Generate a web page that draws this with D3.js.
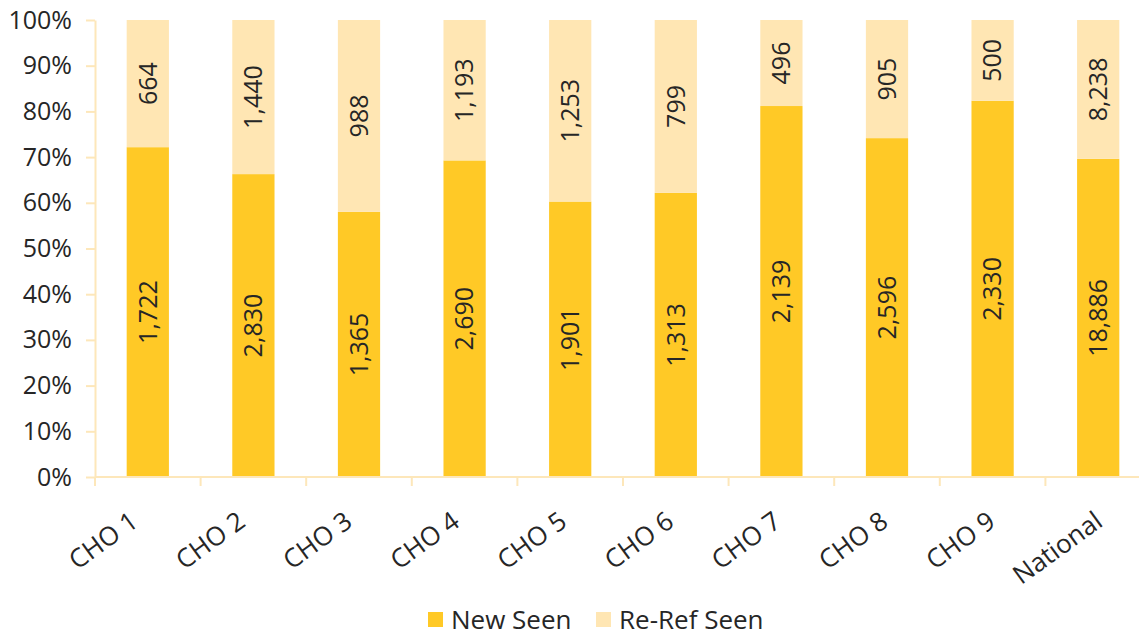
<!DOCTYPE html>
<html>
<head>
<meta charset="utf-8">
<script src="https://cdn.jsdelivr.net/npm/d3@7"></script>
<style>
  body { margin: 0; background: #fff; }
  text { font-family: "Open Sans", sans-serif; fill: #262626; }
</style>
</head>
<body>
<div class="chart"></div>
<script>
const categories = ['CHO 1', 'CHO 2', 'CHO 3', 'CHO 4', 'CHO 5', 'CHO 6', 'CHO 7', 'CHO 8', 'CHO 9', 'National'];
const newSeen = [1722, 2830, 1365, 2690, 1901, 1313, 2139, 2596, 2330, 18886];
const reRefSeen = [664, 1440, 988, 1193, 1253, 799, 496, 905, 500, 8238];
const seriesNames = ['New Seen', 'Re-Ref Seen'];
const yTicks = [0, 0.1, 0.2, 0.3, 0.4, 0.5, 0.6, 0.7, 0.8, 0.9, 1];

const colors = ['#FFC926', '#FFE6B3'];
const axisColor = '#FDE7BA';

const W = 1139, H = 637;
const margin = {top: 20, right: -12, bottom: 160, left: 95};
const width = W - margin.left - margin.right;
const height = H - margin.top - margin.bottom;

const svg = d3.select('.chart')
  .append('svg')
    .attr('width', W)
    .attr('height', H);
const g = svg.append('g')
  .attr('transform', `translate(${margin.left}, ${margin.top})`);

const rows = categories.map((c, i) => ({cat: c, 'New Seen': newSeen[i], 'Re-Ref Seen': reRefSeen[i]}));
const stacked = d3.stack()
  .keys(seriesNames)
  .offset(d3.stackOffsetExpand)(rows);

const x = d3.scaleBand()
  .domain(categories)
  .range([0, width])
  .paddingInner(0.6)
  .paddingOuter(0.3);

const y = d3.scaleLinear()
  .domain([0, 1])
  .range([height, 0]);

// y axis
const yAxis = d3.axisLeft(y)
  .tickValues(yTicks)
  .tickFormat(d3.format('.0%'))
  .tickSizeInner(9)
  .tickSizeOuter(0)
  .tickPadding(14);
const yg = g.append('g').call(yAxis);
yg.selectAll('path, line').attr('stroke', axisColor).attr('stroke-width', 2);
yg.selectAll('text').style('font-size', '25px').attr('fill', '#262626');

// bars
stacked.forEach((s, si) => {
  g.append('g')
    .selectAll('rect')
    .data(s)
    .join('rect')
      .attr('x', d => x(d.data.cat))
      .attr('y', d => y(d[1]))
      .attr('width', x.bandwidth())
      .attr('height', d => y(d[0]) - y(d[1]))
      .attr('fill', colors[si]);

  g.append('g')
    .selectAll('text')
    .data(s)
    .join('text')
      .attr('transform', d => `translate(${x(d.data.cat) + x.bandwidth() / 2}, ${(y(d[0]) + y(d[1])) / 2}) rotate(-90)`)
      .attr('text-anchor', 'middle')
      .attr('dy', '0.35em')
      .style('font-size', '25px')
      .text(d => d3.format(',')(d.data[s.key]));
});

// x axis with ticks at band boundaries
const step = x.step();
const xg = g.append('g').attr('transform', `translate(0, ${height})`);
xg.append('line')
  .attr('x1', 0).attr('x2', width)
  .attr('stroke', axisColor).attr('stroke-width', 2);
xg.selectAll('line.tick')
  .data(d3.range(categories.length + 1))
  .join('line')
    .attr('class', 'tick')
    .attr('x1', i => i * step).attr('x2', i => i * step)
    .attr('y1', 0).attr('y2', 9)
    .attr('stroke', axisColor).attr('stroke-width', 2);

// rotated labels are spread a little wider than the bands
const labelX = d3.scalePoint()
  .domain(categories)
  .range([x(categories[0]) + x.bandwidth() / 2 - 8,
          x(categories[categories.length - 1]) + x.bandwidth() / 2 + 6]);
xg.selectAll('text')
  .data(categories)
  .join('text')
    .attr('transform', d => `translate(${labelX(d)}, 48) rotate(-36)`)
    .attr('text-anchor', 'end')
    .style('font-size', '26px')
    .text(d => d);

// legend
const legend = svg.append('g').attr('transform', `translate(428, 612)`);
const lx = [0, 168];
seriesNames.forEach((name, i) => {
  const lg = legend.append('g').attr('transform', `translate(${lx[i]}, 0)`);
  lg.append('rect').attr('width', 15).attr('height', 15).attr('fill', colors[i]);
  lg.append('text').attr('x', 23).attr('y', 8).attr('dy', '0.36em')
    .style('font-size', '26px').text(name);
});
</script>
</body>
</html>
